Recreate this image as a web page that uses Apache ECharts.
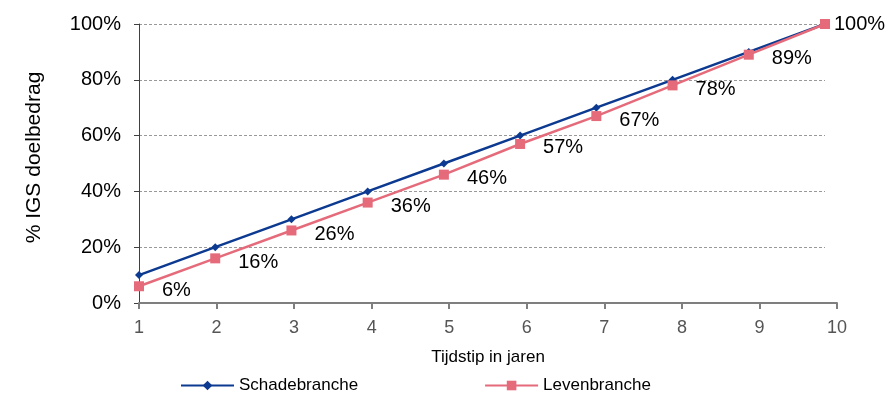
<!DOCTYPE html>
<html>
<head>
<meta charset="utf-8">
<script src="https://cdn.jsdelivr.net/npm/echarts@6/dist/echarts.min.js"></script>
<style>
  html, body { margin: 0; padding: 0; background: #fff; }
  #chart { width: 887px; height: 394px; }
</style>
</head>
<body>
<div id="chart"></div>
<script>
// data
const years = [1, 2, 3, 4, 5, 6, 7, 8, 9, 10]
const schadebranche = [10, 20, 30, 40, 50, 60, 70, 80, 90, 100]
const levenbranche = [6, 16, 26, 36, 46, 57, 67, 78, 89, 100]
const yTicks = [0, 20, 40, 60, 80, 100]

const FONT = 'Liberation Sans, Arial, sans-serif'
const BLUE = '#0d3a91'
const PINK = '#e56b7b'

const pairs = (vals) => vals.map((v, i) => [years[i], v])

const chart = echarts.init(document.getElementById('chart'))

const option = {
  animation: false,
  textStyle: { fontFamily: FONT },
  grid: [
    // plot area (data + gridlines)
    { left: 139, right: 62, top: 24, bottom: 91 },
    // the visible year axis is a bit wider than the plot
    { left: 139, right: 50, top: 24, bottom: 91 },
  ],
  legend: {
    top: 372,
    left: 175,
    itemWidth: 53,
    itemHeight: 12,
    itemGap: 126,
    textStyle: { fontSize: 17, color: '#000', fontFamily: FONT },
    data: ['Schadebranche', 'Levenbranche'],
  },
  xAxis: [
    {
      gridIndex: 0,
      type: 'value',
      min: years[0],
      max: years[years.length - 1],
      show: false,
    },
    {
      gridIndex: 1,
      type: 'value',
      min: years[0],
      max: years[years.length - 1],
      interval: 1,
      name: 'Tijdstip in jaren',
      nameLocation: 'middle',
      nameGap: 46,
      nameTextStyle: { fontSize: 17, color: '#000', fontFamily: FONT },
      axisLine: { lineStyle: { color: '#7f7f7f', width: 2 } },
      axisTick: { show: true, length: 6, lineStyle: { color: '#7f7f7f', width: 2 } },
      axisLabel: { fontSize: 18, color: '#555', margin: 16, fontFamily: FONT },
      splitLine: { show: false },
    },
  ],
  yAxis: [
    {
      gridIndex: 0,
      type: 'value',
      min: yTicks[0],
      max: yTicks[yTicks.length - 1],
      interval: 20,
      name: '% IGS doelbedrag',
      nameLocation: 'middle',
      nameGap: 94,
      nameRotate: 90,
      nameTextStyle: { fontSize: 21, color: '#000', fontFamily: FONT, padding: [0, 0, 0, 12] },
      axisLine: { show: true, lineStyle: { color: '#404040', width: 1 } },
      axisTick: { show: true, length: 5, lineStyle: { color: '#404040' } },
      axisLabel: {
        fontSize: 20,
        color: '#000',
        margin: 18,
        fontFamily: FONT,
        formatter: '{value}%',
      },
      splitLine: { show: true, lineStyle: { color: '#999', type: [3, 2], width: 1 } },
    },
    {
      gridIndex: 1,
      type: 'value',
      min: 0,
      max: 100,
      show: false,
    },
  ],
  series: [
    {
      name: 'Schadebranche',
      type: 'line',
      xAxisIndex: 0,
      yAxisIndex: 0,
      data: pairs(schadebranche),
      symbol: 'diamond',
      symbolSize: 8,
      itemStyle: { color: BLUE },
      lineStyle: { color: BLUE, width: 2.5 },
      z: 2,
    },
    {
      name: 'Levenbranche',
      type: 'line',
      xAxisIndex: 0,
      yAxisIndex: 0,
      data: pairs(levenbranche).map((p, i) => {
        const last = i === levenbranche.length - 1
        return {
          value: p,
          label: last ? { distance: 4, offset: [0, 0] } : undefined,
        }
      }),
      symbol: 'rect',
      symbolSize: 10,
      itemStyle: { color: PINK },
      lineStyle: { color: PINK, width: 2.5 },
      label: {
        show: true,
        position: 'right',
        distance: 18,
        offset: [0, 4],
        fontSize: 20,
        color: '#000',
        fontFamily: FONT,
        formatter: (p) => p.value[1] + '%',
      },
      z: 3,
    },
  ],
}

chart.setOption(option)
</script>
</body>
</html>
